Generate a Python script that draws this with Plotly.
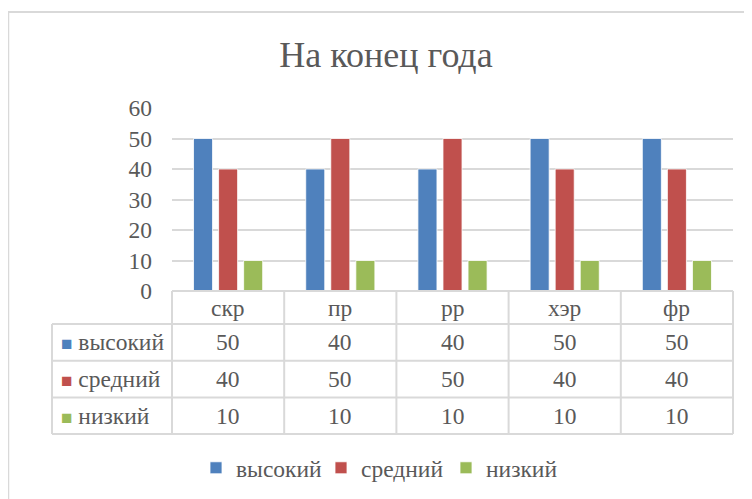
import plotly.graph_objects as go

categories = ["скр", "пр", "рр", "хэр", "фр"]
series_names = ["высокий", "средний", "низкий"]
high = [50, 40, 40, 50, 50]
mid = [40, 50, 50, 40, 40]
low = [10, 10, 10, 10, 10]
series_values = [high, mid, low]
colors = ["#4F81BD", "#C0504D", "#9BBB59"]
y_ticks = [0, 10, 20, 30, 40, 50, 60]

# page has an 8px body margin; figure coordinates = page coordinates - 8
W, H = 744, 491
ML, MR, MT, MB = 164, 19, 100, 208
FONT = "Times New Roman, Liberation Serif, DejaVu Serif, serif"
TXT = "#595959"
GRID = "#d9d9d9"
FS = 23.5

fig = go.Figure()
for name, vals, col in zip(series_names, series_values, colors):
    fig.add_trace(go.Bar(x=categories, y=vals, name=name,
                         marker=dict(color=col, line=dict(color="white", width=0.8))))

pw = W - ML - MR
ph = H - MT - MB
def px_to_paper_x(px):
    return (px - ML) / pw
def px_to_paper_y(py):
    return (H - MB - py) / ph

n = len(categories)
row_h = 36.7
header_h = 33
table_top = H - MB
y_lines_px = [table_top + header_h + i * row_h for i in range(len(series_names) + 1)]
label_left_px = 44

shapes = []
shapes.append(dict(type="line", xref="paper", yref="paper", x0=0, x1=1,
                   y0=0, y1=0, line=dict(color=GRID, width=2)))
for yp in y_lines_px:
    shapes.append(dict(type="line", xref="paper", yref="paper",
                       x0=px_to_paper_x(label_left_px), x1=1,
                       y0=px_to_paper_y(yp), y1=px_to_paper_y(yp),
                       line=dict(color=GRID, width=2)))
for i in range(n + 1):
    xp = i / n
    shapes.append(dict(type="line", xref="paper", yref="paper", x0=xp, x1=xp,
                       y0=0, y1=px_to_paper_y(y_lines_px[-1]),
                       line=dict(color=GRID, width=2)))
shapes.append(dict(type="line", xref="paper", yref="paper",
                   x0=px_to_paper_x(label_left_px), x1=px_to_paper_x(label_left_px),
                   y0=px_to_paper_y(y_lines_px[0]), y1=px_to_paper_y(y_lines_px[-1]),
                   line=dict(color=GRID, width=2)))
# outer chart border (left + top)
shapes.append(dict(type="line", xref="paper", yref="paper",
                   x0=px_to_paper_x(0), x1=px_to_paper_x(0),
                   y0=px_to_paper_y(4), y1=px_to_paper_y(H + 5),
                   line=dict(color=GRID, width=2.5)))
shapes.append(dict(type="line", xref="paper", yref="paper",
                   x0=px_to_paper_x(0), x1=px_to_paper_x(W + 5),
                   y0=px_to_paper_y(4), y1=px_to_paper_y(4),
                   line=dict(color=GRID, width=2)))

annotations = []
tf = dict(family=FONT, size=FS, color=TXT)
for c in categories:
    annotations.append(dict(x=c, y=px_to_paper_y(table_top + header_h / 2), xref="x", yref="paper",
                            text=c, showarrow=False, font=tf, yanchor="middle"))
for r, (name, vals, col) in enumerate(zip(series_names, series_values, colors)):
    yc = px_to_paper_y(y_lines_px[r] + row_h / 2)
    for c, v in zip(categories, vals):
        annotations.append(dict(x=c, y=yc, xref="x", yref="paper", text=str(v),
                                showarrow=False, font=tf, yanchor="middle"))
    annotations.append(dict(x=px_to_paper_x(label_left_px + 7), y=yc, xref="paper", yref="paper",
                            xanchor="left", yanchor="middle", showarrow=False,
                            text=f"<span style='color:{col};font-size:19px'>■</span> {name}",
                            font=tf))

fig.update_layout(
    width=W, height=H,
    margin=dict(l=ML, r=MR, t=MT, b=MB, autoexpand=False),
    paper_bgcolor="white", plot_bgcolor="white",
    title=dict(text="На конец года", x=px_to_paper_x(378), xref="paper", xanchor="center",
               y=1 - 46 / H, yanchor="middle",
               font=dict(family=FONT, size=36, color=TXT)),
    barmode="group", bargap=0.33, bargroupgap=0.24,
    xaxis=dict(showticklabels=False, showline=False, showgrid=False, ticks="",
               range=[-0.5, n - 0.5], automargin=False),
    yaxis=dict(range=[0, 60], tickvals=y_ticks, showgrid=True, gridcolor=GRID, gridwidth=1.5,
               zeroline=False, showline=False, ticks="", ticklabelstandoff=19, automargin=False,
               tickfont=dict(family=FONT, size=FS, color=TXT)),
    legend=dict(orientation="h", x=px_to_paper_x(188), xanchor="left", xref="paper",
                y=px_to_paper_y(460), yanchor="middle",
                font=dict(family=FONT, size=FS, color=TXT), itemwidth=30,
                entrywidth=80, traceorder="normal"),
    shapes=shapes, annotations=annotations,
    showlegend=True,
)

fig.write_html("out.html")
